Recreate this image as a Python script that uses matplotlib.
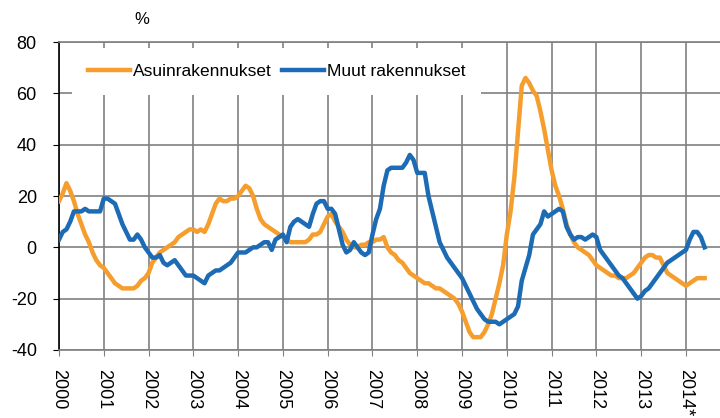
import matplotlib
matplotlib.use("Agg")
import matplotlib.pyplot as plt
import numpy as np

plt.rcParams['font.family'] = ['Liberation Sans', 'DejaVu Sans']
plt.rcParams['axes.unicode_minus'] = False

# monthly year-over-year change, %, Jan 2000 .. Jun 2014
asuin = [
    18, 21, 25, 22, 18, 13, 9, 5, 2, -2, -5, -7,            # 2000
    -8, -10, -12, -14, -15, -16, -16, -16, -16, -15, -13, -12,  # 2001
    -10, -6, -4, -2, -1, 0, 1, 2, 4, 5, 6, 7,               # 2002
    7, 6, 7, 6, 9, 13, 17, 19, 18, 18, 19, 19,              # 2003
    20, 22, 24, 23, 20, 15, 11, 9, 8, 7, 6, 5,              # 2004
    4, 3, 2, 2, 2, 2, 2, 3, 5, 5, 6, 9,                     # 2005
    12, 13, 10, 8, 6, 3, 1, 0, 0, 1, 1, 2,                  # 2006
    2, 3, 3, 4, 0, -2, -3, -5, -6, -8, -10, -11,            # 2007
    -12, -13, -14, -14, -15, -16, -16, -17, -18, -19, -20, -22,  # 2008
    -25, -29, -33, -35, -35, -35, -33, -30, -26, -20, -14, -7,   # 2009
    5, 14, 27, 45, 63, 66, 64, 61, 59, 53, 46, 38,          # 2010
    30, 24, 20, 15, 9, 5, 2, 0, -1, -2, -3, -5,             # 2011
    -7, -8, -9, -10, -11, -11, -12, -12, -12, -11, -10, -8,  # 2012
    -6, -4, -3, -3, -4, -4, -7, -10, -11, -12, -13, -14,    # 2013
    -15, -14, -13, -12, -12, -12,                           # 2014
]
muut = [
    3, 6, 7, 10, 14, 14, 14, 15, 14, 14, 14, 14,            # 2000
    19, 19, 18, 17, 13, 9, 6, 3, 3, 5, 3, 0,                # 2001
    -2, -4, -4, -3, -6, -7, -6, -5, -7, -9, -11, -11,       # 2002
    -11, -12, -13, -14, -11, -10, -9, -9, -8, -7, -6, -4,   # 2003
    -2, -2, -2, -1, 0, 0, 1, 2, 2, -1, 3, 4,                # 2004
    5, 2, 8, 10, 11, 10, 9, 8, 13, 17, 18, 18,              # 2005
    15, 15, 13, 7, 1, -2, -1, 2, 0, -2, -3, -2,             # 2006
    5, 11, 15, 24, 30, 31, 31, 31, 31, 33, 36, 34,          # 2007
    29, 29, 29, 20, 14, 8, 2, -1, -4, -6, -8, -10,          # 2008
    -12, -15, -18, -21, -24, -26, -28, -29, -29, -29, -30, -29,  # 2009
    -28, -27, -26, -23, -13, -8, -3, 5, 7, 9, 14, 12,       # 2010
    13, 14, 15, 14, 8, 5, 3, 4, 4, 3, 4, 5,                 # 2011
    4, -1, -3, -5, -7, -9, -11, -12, -14, -16, -18, -20,    # 2012
    -19, -17, -16, -14, -12, -10, -8, -6, -5, -4, -3, -2,   # 2013
    -1, 3, 6, 6, 4, 0,                                      # 2014
]
years = list(range(2000, 2015))
year_labels = [str(y) for y in years[:-1]] + ['2014*']

t = 2000 + np.arange(len(asuin)) / 12

fig = plt.figure(figsize=(7.2, 4.18), dpi=100)
ax = fig.add_axes([59 / 720, 68 / 418, 661 / 720, 308 / 418])

ax.plot(t, asuin, color='#F59E2E', lw=3.2, label='Asuinrakennukset', zorder=3)
ax.plot(t, muut, color='#1C6BB4', lw=3.2, label='Muut rakennukset', zorder=3)

ax.set_xlim(2000, 2014.76)
ax.set_ylim(-40, 80)
ax.set_yticks(range(-40, 81, 20))
ax.set_xticks(years)
ax.set_xticklabels(year_labels, rotation=270, fontsize=13)
ax.tick_params(axis='y', labelsize=13, length=4, direction='out', pad=12, color='black')
ax.tick_params(axis='x', length=4, direction='out', pad=10, color='#808080')

ax.grid(True, color='#808080', lw=1.2)
ax.set_axisbelow(True)
for s in ['top', 'bottom']:
    ax.spines[s].set_color('#808080')
    ax.spines[s].set_linewidth(1.2)
ax.spines['right'].set_visible(False)
ax.spines['left'].set_color('black')
ax.spines['left'].set_linewidth(1.2)

leg = ax.legend(loc='upper left', bbox_to_anchor=(0.02, 0.98), ncol=2, frameon=True,
                fontsize=12.5, handlelength=2.4, handletextpad=0.2, columnspacing=0.6,
                borderaxespad=0, borderpad=0.9, fancybox=False)
leg.get_frame().set_facecolor('white')
leg.get_frame().set_edgecolor('none')
leg.get_frame().set_alpha(1)
leg.set_zorder(5)

fig.text(142 / 720, 1 - 20 / 418, '%', fontsize=12, ha='center', va='center')

fig.savefig('out.png', dpi=100)
